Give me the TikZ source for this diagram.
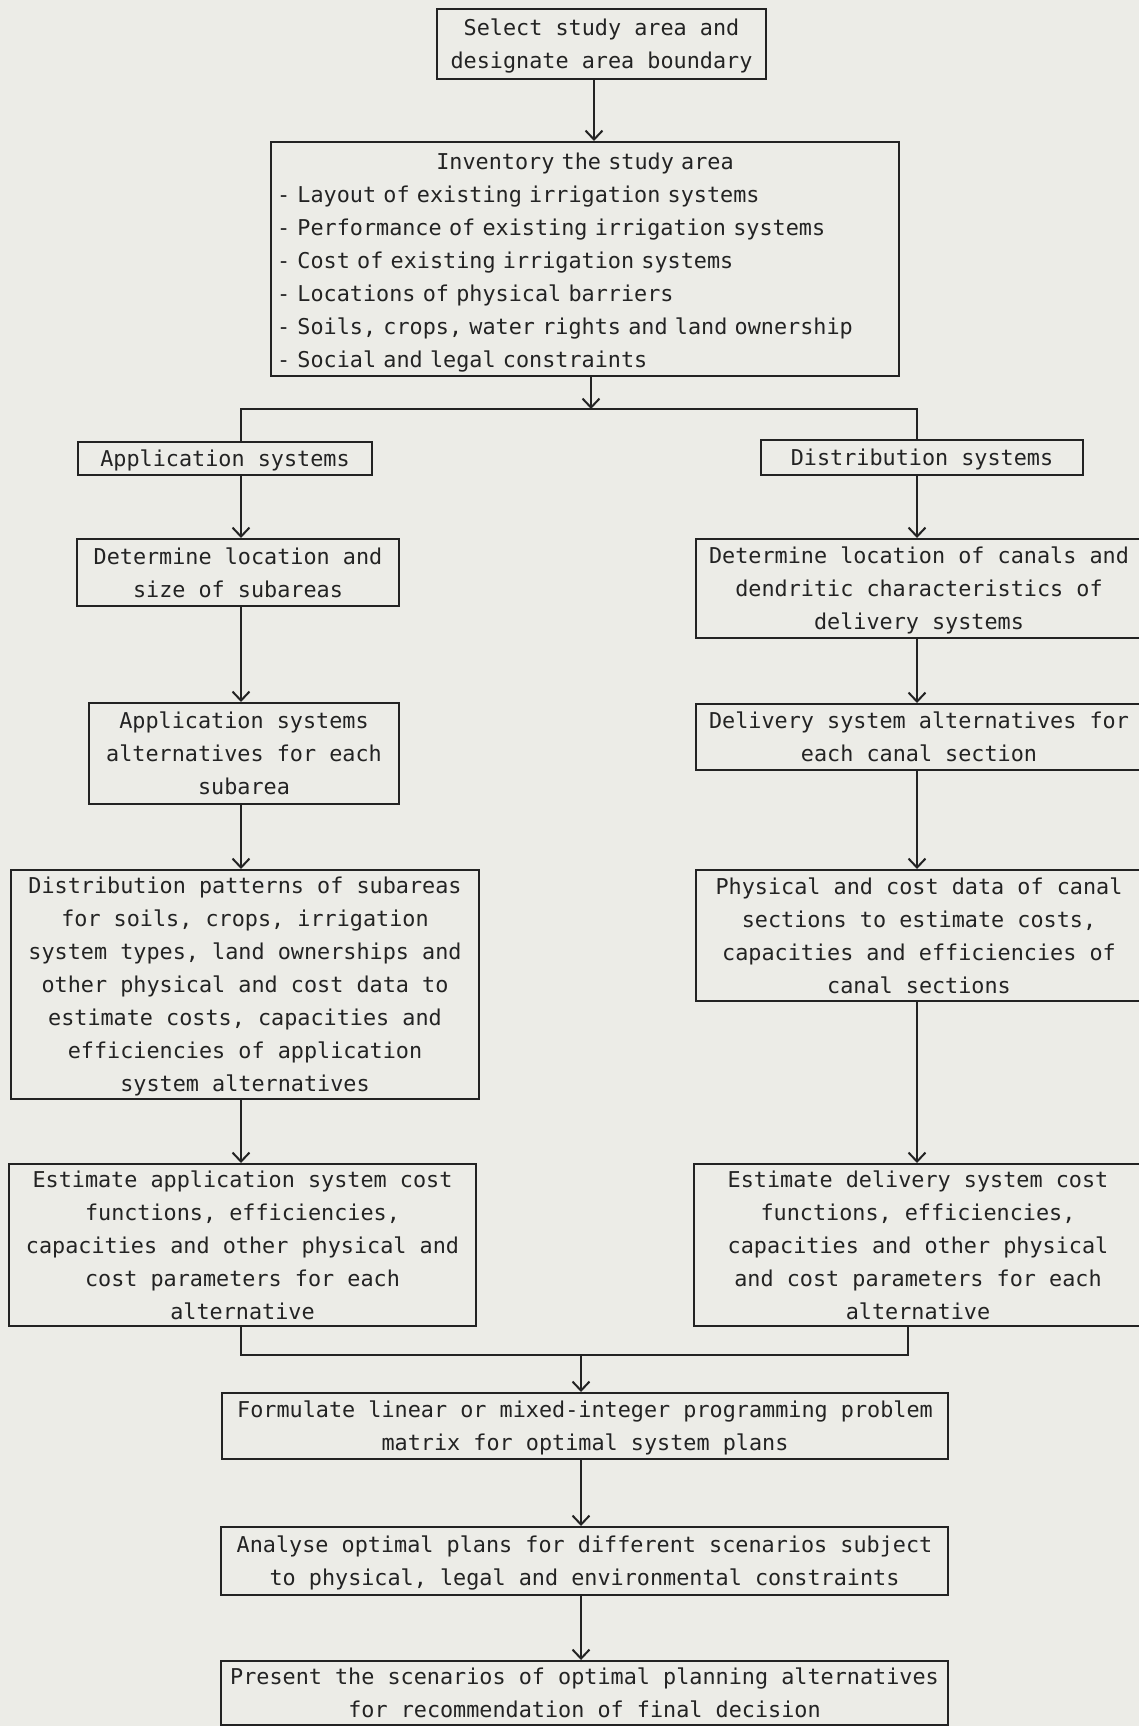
\documentclass[tikz,border=0pt]{standalone}
\usepackage{fontspec}
\newfontfamily\typefont{DejaVu Sans Mono}
\usetikzlibrary{arrows.meta}
\definecolor{paper}{RGB}{236,236,231}
\definecolor{ink}{RGB}{35,35,35}

\begin{document}
\begin{tikzpicture}[x=1pt,y=-1pt,->,>={Straight Barb[length=9pt,width=17pt]},
                    line width=2pt,draw=ink,
                    box/.style={draw=ink,-,inner sep=4pt,align=center,text=ink,
                      text depth=-2pt,
                      font=\typefont\fontsize{21.8}{33}\selectfont}]

  \fill[paper] (0,0) rectangle (1139,1726);
  \useasboundingbox (0,0) rectangle (1139,1726);

  % column guides
  \coordinate (topcol) at (594,0);
  \coordinate (lcol)   at (241,0);
  \coordinate (rcol)   at (917,0);
  \coordinate (jr)     at (908,0);
  \coordinate (split)  at (591,409);
  \coordinate (merge)  at (581,1355);

  \node[box,minimum width=329,minimum height=70] (select)    at (601.5,44)
    {Select study area and\\designate area boundary};
  \node[box,minimum width=628,minimum height=234,text width=616,align=left,
        inner xsep=6pt,text depth=196pt] (inventory) at (585,259)
    {\makebox[616pt]{Inventory the study area}\\
     - Layout of existing irrigation systems\\
     - Performance of existing irrigation systems\\
     - Cost of existing irrigation systems\\
     - Locations of physical barriers\\
     - Soils, crops, water rights and land ownership\\
     - Social and legal constraints};

  % application side
  \node[box,minimum width=294,minimum height=33] (appsys)  at (225,458.5)
    {Application systems};
  \node[box,minimum width=322,minimum height=67] (subarea) at (238,572.5)
    {Determine location and\\size of subareas};
  \node[box,minimum width=310,minimum height=101] (appalt) at (244,753.5)
    {Application systems\\alternatives for each\\subarea};
  \node[box,minimum width=468,minimum height=229] (pattern) at (245,984.5)
    {Distribution patterns of subareas\\for soils, crops, irrigation\\
     system types, land ownerships and\\other physical and cost data to\\
     estimate costs, capacities and\\efficiencies of application\\
     system alternatives};
  \node[box,minimum width=467,minimum height=162] (appest) at (242.5,1245)
    {Estimate application system cost\\functions, efficiencies,\\
     capacities and other physical and\\cost parameters for each\\alternative};

  % distribution side
  \node[box,minimum width=322,minimum height=35] (distsys) at (922,457.5)
    {Distribution systems};
  \node[box,minimum width=446,minimum height=99] (canals)  at (919,588.5)
    {Determine location of canals and\\dendritic characteristics of\\delivery systems};
  \node[box,minimum width=446,minimum height=66] (delalt)  at (919,737)
    {Delivery system alternatives for\\each canal section};
  \node[box,minimum width=446,minimum height=131] (physical) at (919,935.5)
    {Physical and cost data of canal\\sections to estimate costs,\\
     capacities and efficiencies of\\canal sections};
  \node[box,minimum width=448,minimum height=162] (delest) at (918,1245)
    {Estimate delivery system cost\\functions, efficiencies,\\
     capacities and other physical\\and cost parameters for each\\alternative};

  % common part
  \node[box,minimum width=726,minimum height=66] (formulate) at (585,1426)
    {Formulate linear or mixed-integer programming problem\\matrix for optimal system plans};
  \node[box,minimum width=727,minimum height=68] (analyse) at (584.5,1561)
    {Analyse optimal plans for different scenarios subject\\to physical, legal and environmental constraints};
  \node[box,minimum width=727,minimum height=64] (present) at (584.5,1693)
    {Present the scenarios of optimal planning alternatives\\for recommendation of final decision};

  \draw (select.south -| topcol) -- (inventory.north -| topcol);
  \draw (inventory.south -| split) -- (split);
  \draw[-] (appsys.north -| lcol) |- (split) -| (distsys.north -| rcol);

  \draw (appsys.south -| lcol)  -- (subarea.north -| lcol);
  \draw (subarea.south -| lcol) -- (appalt.north -| lcol);
  \draw (appalt.south -| lcol)  -- (pattern.north -| lcol);
  \draw (pattern.south -| lcol) -- (appest.north -| lcol);

  \draw (distsys.south -| rcol)  -- (canals.north -| rcol);
  \draw (canals.south -| rcol)   -- (delalt.north -| rcol);
  \draw (delalt.south -| rcol)   -- (physical.north -| rcol);
  \draw (physical.south -| rcol) -- (delest.north -| rcol);

  \draw[-] (appest.south -| lcol) |- (merge) -| (delest.south -| jr);
  \draw (merge) -- (formulate.north -| merge);
  \draw (formulate.south -| merge) -- (analyse.north -| merge);
  \draw (analyse.south -| merge) -- (present.north -| merge);
\end{tikzpicture}
\end{document}
